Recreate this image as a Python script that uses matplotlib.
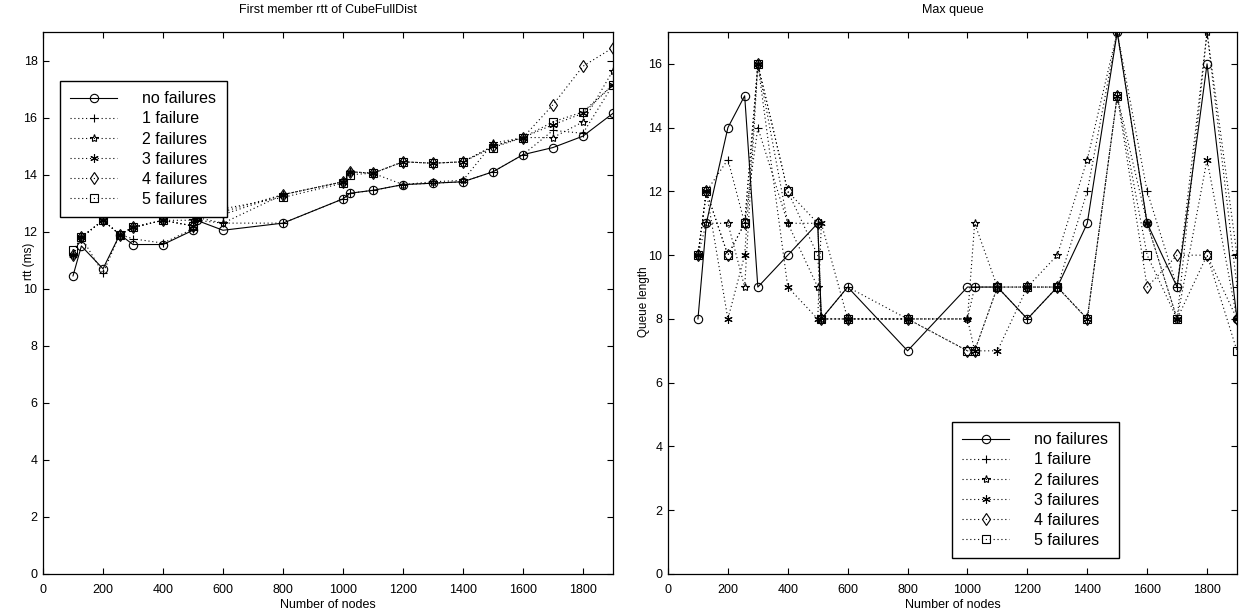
import matplotlib
matplotlib.use("Agg")
import matplotlib.pyplot as plt

plt.rcParams['font.family'] = ['Liberation Sans', 'DejaVu Sans']

# number of nodes (same for both panels)
nodes = [100, 128, 200, 256, 300, 400, 500, 512, 600, 800, 1000, 1024,
         1100, 1200, 1300, 1400, 1500, 1600, 1700, 1800, 1900]

labels = ['no failures', '1 failure', '2 failures', '3 failures', '4 failures', '5 failures']
markers = ['o', '+', '*', (6, 2, 0), 'd', 's']

# first member rtt (ms)
rtt_f0 = [10.45, 11.5, 10.7, 11.9, 11.55, 11.55, 12.05, 12.4, 12.05, 12.3, 13.15, 13.35,
          13.45, 13.65, 13.7, 13.75, 14.1, 14.7, 14.95, 15.35, 16.15]
rtt_f1 = [11.2, 11.8, 10.55, 11.9, 11.75, 11.6, 12.1, 12.4, 12.3, 12.3, 13.15, 13.35,
          13.45, 13.65, 13.7, 13.75, 14.1, 14.7, 15.55, 15.45, 17.15]
rtt_f2 = [11.2, 11.8, 12.4, 11.9, 12.15, 12.4, 12.4, 12.5, 12.3, 13.3, 13.75, 14.1,
          14.05, 13.65, 13.75, 13.8, 15.1, 15.3, 15.3, 15.85, 17.65]
rtt_f3 = [11.2, 11.8, 12.4, 11.9, 12.15, 12.4, 12.2, 12.5, 12.6, 13.3, 13.75, 14.1,
          14.05, 14.45, 14.4, 14.45, 15.0, 15.3, 15.75, 16.15, 17.15]
rtt_f4 = [11.2, 11.8, 12.4, 11.9, 12.15, 12.4, 12.2, 12.5, 12.7, 13.3, 13.75, 14.1,
          14.05, 14.45, 14.4, 14.45, 15.0, 15.3, 16.45, 17.8, 18.45]
rtt_f5 = [11.35, 11.8, 12.4, 11.9, 12.15, 12.4, 12.2, 12.5, 12.8, 13.2, 13.7, 14.0,
          14.05, 14.45, 14.4, 14.45, 14.95, 15.3, 15.85, 16.2, 17.15]

# max queue length
q_f0 = [8, 11, 14, 15, 9, 10, 11, 8, 9, 7, 9, 9, 9, 8, 9, 11, 17, 11, 9, 16, 8]
q_f1 = [10, 12, 13, 11, 14, 11, 11, 8, 9, 8, 8, 9, 9, 8, 9, 12, 17, 12, 9, 17, 9]
q_f2 = [10, 11, 11, 9, 16, 11, 9, 8, 8, 8, 8, 11, 9, 9, 10, 13, 17, 11, 8, 17, 10]
q_f3 = [10, 12, 8, 10, 16, 9, 8, 11, 8, 8, 8, 7, 7, 9, 9, 8, 15, 11, 8, 13, 8]
q_f4 = [10, 12, 10, 11, 16, 12, 11, 8, 8, 8, 7, 7, 9, 9, 9, 8, 15, 9, 10, 10, 8]
q_f5 = [10, 12, 10, 11, 16, 12, 10, 8, 8, 8, 7, 7, 9, 9, 9, 8, 15, 10, 8, 10, 7]

rtt_series = [rtt_f0, rtt_f1, rtt_f2, rtt_f3, rtt_f4, rtt_f5]
q_series = [q_f0, q_f1, q_f2, q_f3, q_f4, q_f5]

W, H = 1239, 615
fig = plt.figure(figsize=(W / 100, H / 100), dpi=100)


def px_box(x0, y0, x1, y1):
    return [x0 / W, 1 - y1 / H, (x1 - x0) / W, (y1 - y0) / H]


def draw(ax, series, ylim, yticks, title, ylabel):
    for i, ys in enumerate(series):
        ls = '-' if i == 0 else (0, (1, 2.5))
        ax.plot(nodes, ys, color='black', linestyle=ls, linewidth=0.8,
                marker=markers[i], markersize=6, markerfacecolor='none',
                markeredgecolor='black', markeredgewidth=0.8, label=labels[i])
    ax.set_xlim(0, 1900)
    ax.set_ylim(*ylim)
    ax.set_xticks(range(0, 1801, 200))
    ax.set_yticks(yticks)
    ax.tick_params(direction='in', top=True, right=True, length=4, width=0.8,
                   labelsize=9)
    ax.tick_params(axis='x', pad=7)
    ax.tick_params(axis='y', pad=4)
    for s in ax.spines.values():
        s.set_linewidth(0.9)
    ax.set_title(title, fontsize=9, pad=14)
    ax.set_xlabel('Number of nodes', fontsize=9, labelpad=2)
    ax.set_ylabel(ylabel, fontsize=8.5)


def add_legend(ax, x, y):
    leg = ax.legend(loc='upper left', bbox_to_anchor=(x / W, 1 - y / H),
                    bbox_transform=fig.transFigure, fontsize=11.5, frameon=True,
                    fancybox=False, edgecolor='black', framealpha=1,
                    handlelength=2.9, handletextpad=1.6, labelspacing=0.32,
                    borderpad=0.65, borderaxespad=0)
    leg.get_frame().set_linewidth(1.0)


ax1 = fig.add_axes(px_box(43, 32, 613, 574))
draw(ax1, rtt_series, (0, 19), range(0, 19, 2), 'First member rtt of CubeFullDist', 'rtt (ms)')
ax1.yaxis.set_label_coords(-0.014, (574 - 261) / 542)
add_legend(ax1, 60, 81)

ax2 = fig.add_axes(px_box(668, 32, 1237, 574))
draw(ax2, q_series, (0, 17), range(0, 17, 2), 'Max queue', 'Queue length')
ax2.yaxis.set_label_coords(-0.031, (574 - 302) / 542)
add_legend(ax2, 952, 422)

fig.savefig('out.png', dpi=100)
